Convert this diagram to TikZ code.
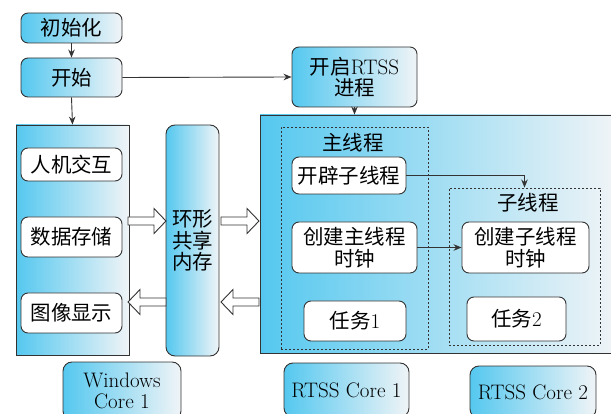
\documentclass[tikz,border=0pt]{standalone}
\usepackage{fontspec}
\newfontfamily\cjk[Scale=0.975]{Noto Sans CJK SC}
\usetikzlibrary{arrows.meta,calc}

\definecolor{skyc}{HTML}{55C8EF}
\definecolor{palec}{HTML}{F0F4F7}
\definecolor{edge}{HTML}{333333}

\tikzset{
  base/.style={draw=edge, line width=0.9pt, align=center, inner sep=0pt,
    font=\fontsize{21}{21.5}\selectfont},
  grad/.style={base, left color=skyc, right color=palec},
  gbox/.style={grad, rounded corners=7pt},
  wbox/.style={base, fill=white, rounded corners=7pt},
  group/.style={draw=edge, line width=0.9pt, dash pattern=on 2.2pt off 1.8pt},
  caption/.style={inner sep=0pt, font=\fontsize{21}{21.5}\selectfont},
  link/.style={draw=edge, line width=0.9pt, -{Stealth[length=8pt,width=6.5pt]}},
  hollow/.style={draw=edge, line width=0.9pt, fill=white, line join=miter},
}

% hollow block arrow from a tail point to a tip point (horizontal)
\newcommand\blockarrow[2]{%
  \draw[hollow] let \p1=(#1), \p2=(#2), \n1={sign(\x2-\x1)} in
    (\x1,\y1+4pt) -- (\x2-\n1*12pt,\y1+4pt) -- (\x2-\n1*12pt,\y1+12.5pt)
    -- (\x2,\y1) -- (\x2-\n1*12pt,\y1-12.5pt) -- (\x2-\n1*12pt,\y1-4pt)
    -- (\x1,\y1-4pt) -- cycle;}

\begin{document}
\begin{tikzpicture}[x=1pt, y=-1pt]
\useasboundingbox (0,0) rectangle (611,414);

% start-up chain
\node[gbox, minimum width=101pt, minimum height=30pt] (init) at (71.5,28) {\cjk 初始化};
\node[gbox, minimum width=101pt, minimum height=39pt] (start) at (71.5,77.5) {\cjk 开始};
\node[gbox, minimum width=125pt, minimum height=60pt] (rtss) at (354.5,77) {{\cjk 开启}RTSS\\[-1pt]{\cjk 进程}};

% Windows side
\node[grad, minimum width=113pt, minimum height=230pt] (win) at (72.5,240) {};
\node[wbox, minimum width=101pt, minimum height=33pt] (hci) at (71.5,164.5) {\cjk 人机交互};
\node[wbox, minimum width=101pt, minimum height=40pt] (ds) at (71.5,237) {\cjk 数据存储};
\node[wbox, minimum width=101pt, minimum height=40pt] (img) at (71.5,313) {\cjk 图像显示};

% shared ring buffer
\node[gbox, rounded corners=9pt, minimum width=53pt, minimum height=231pt] (ring) at (192.5,240.5)
  {\cjk 环形\\\cjk 共享\\\cjk 内存};

% RTSS side
\node[grad, minimum width=356pt, minimum height=238pt] (panel) at (438,234) {};

\node[group, minimum width=147pt, minimum height=222pt] (mainth) at (354.5,238) {};
\node[caption] (mainlbl) at (353,143) {\cjk 主线程};
\node[wbox, minimum width=114pt, minimum height=37pt] (spawn) at (349,175.5) {\cjk 开辟子线程};
\node[wbox, minimum width=125pt, minimum height=51pt] (mainclk) at (354.5,247.5) {\cjk 创建主线程\\\cjk 时钟};
\node[wbox, minimum width=102pt, minimum height=40pt] (task1) at (355,321) {{\cjk 任务}1};

\node[group, minimum width=151pt, minimum height=157pt] (subth) at (524.5,266.5) {};
\node[caption] (sublbl) at (528,203) {\cjk 子线程};
\node[wbox, minimum width=127pt, minimum height=51pt] (subclk) at (525.5,247.5) {\cjk 创建子线程\\\cjk 时钟};
\node[wbox, minimum width=99pt, minimum height=44pt] (task2) at (516.5,319) {{\cjk 任务}2};

% cores
\node[gbox, rounded corners=9pt, minimum width=118pt, minimum height=58pt] (wcore) at (122,391) {Windows\\[-0.5pt]Core 1};
\node[gbox, rounded corners=9pt, minimum width=125pt, minimum height=54pt] (rcore1) at (346.5,390) {RTSS Core 1};
\node[gbox, rounded corners=9pt, minimum width=126pt, minimum height=52pt] (rcore2) at (533,392) {RTSS Core 2};

% control flow
\draw[link] (init.south) -- (start.north);
\draw[link] (start.east) -- (rtss.west);
\draw[link] (start.south) -- (win.north);
\draw[link] (rtss.south) -- (rtss.south |- panel.north);
\draw[link] (spawn.east) -| (subth.north);
\draw[link] (mainclk.east) -- (subclk.west);

% data flow through the ring buffer
\coordinate (wout) at (128,221);
\coordinate (rin) at (166,221);
\coordinate (rout) at (221,221);
\coordinate (pin) at (259,221);
\coordinate (pback) at (259,302);
\coordinate (rback) at (221,302);
\coordinate (rleft) at (166,302);
\coordinate (wback) at (128,302);
\blockarrow{wout}{rin}
\blockarrow{rout}{pin}
\blockarrow{pback}{rback}
\blockarrow{rleft}{wback}
\end{tikzpicture}
\end{document}
